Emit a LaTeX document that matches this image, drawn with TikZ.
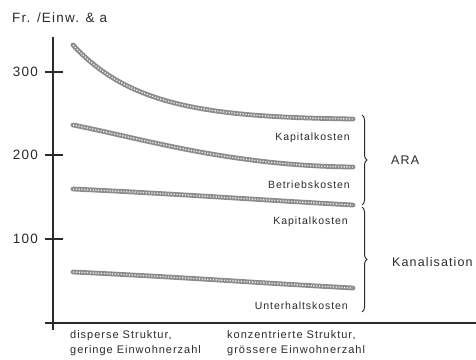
\documentclass[tikz,border=0pt]{standalone}
\usepackage{fontspec}
\setmainfont{Liberation Sans}
\newfontfamily\lblfont[LetterSpace=9]{Liberation Sans}
\usetikzlibrary{decorations.pathreplacing}
\definecolor{ink}{HTML}{2A2A2A}
\definecolor{curvecol}{HTML}{8C8C8C}
\tikzset{
  axisline/.style={line width=1.4pt, ink},
  tickline/.style={line width=1.4pt, ink},
  costcurve/.style={line width=4.8pt, curvecol, line cap=round},
  costtex/.style={line width=1.4pt, white!85!gray, dash pattern=on 1.2pt off 1.6pt},
  ticklbl/.style={font=\lblfont\fontsize{13.5}{15}\selectfont, text=ink, anchor=east, inner sep=0pt},
  curvelbl/.style={font=\lblfont\fontsize{10.5}{12}\selectfont, text=ink, anchor=east, inner sep=0pt},
  grouplbl/.style={font=\lblfont\fontsize{12.5}{14}\selectfont, text=ink, anchor=west, inner sep=0pt},
  xlbl/.style={font=\lblfont\fontsize{11}{15}\selectfont, text=ink, anchor=north west, align=left, inner sep=0pt},
  bracestyle/.style={decorate, decoration={brace, amplitude=5pt}, line width=1pt, ink}
}
\begin{document}
\begin{tikzpicture}[x=1pt, y=-1pt]
\useasboundingbox (0,0) rectangle (476,359);
% title
\node[font=\lblfont\fontsize{13.5}{15}\selectfont, text=ink, anchor=west, inner sep=0pt] (title) at (12,18) {Fr. /Einw. \& a};
% axes
\coordinate (ytop) at (53,37);
\coordinate (ybot) at (53,330);
\coordinate (xl) at (45,323);
\coordinate (xr) at (476,323);
\draw[axisline] (ytop) -- (ybot);
\draw[axisline] (xl) -- (xr);
% ticks
\foreach \yy/\lab in {72/300,155/200,239/100}{
  \draw[tickline] (45,\yy) -- (63,\yy);
  \node[ticklbl] (t\lab) at (38,\yy) {\lab};
}
% curves
\foreach \pth in {
  {(73,45) .. controls (130,107) and (210,117) .. (353,119)},
  {(73,125) .. controls (140,138) and (230,166) .. (353,167)},
  {(73,189) .. controls (180,194) and (260,200) .. (353,205)},
  {(73,272) .. controls (180,277) and (260,283) .. (353,288)}}{
  \draw[costcurve] \pth;
  \draw[costtex] \pth;
}
% curve labels
\node[curvelbl] (k1) at (350,138) {Kapitalkosten};
\node[curvelbl] (b1) at (350,185) {Betriebskosten};
\node[curvelbl] (k2) at (348,222) {Kapitalkosten};
\node[curvelbl] (u1) at (348,306) {Unterhaltskosten};
% braces
\coordinate (b1t) at (362,115);
\coordinate (b1b) at (362,205);
\coordinate (b2t) at (362,207);
\coordinate (b2b) at (362,312);
\draw[bracestyle] (b1t) -- (b1b);
\draw[bracestyle] (b2t) -- (b2b);
\node[grouplbl] (ara) at (391,160) {ARA};
\node[grouplbl] (kan) at (392,262) {Kanalisation};
% x labels
\node[xlbl] (xl1) at (70,330) {disperse Struktur,\\geringe Einwohnerzahl};
\node[xlbl] (xl2) at (227,330) {konzentrierte Struktur,\\grössere Einwohnerzahl};
\end{tikzpicture}
\end{document}
